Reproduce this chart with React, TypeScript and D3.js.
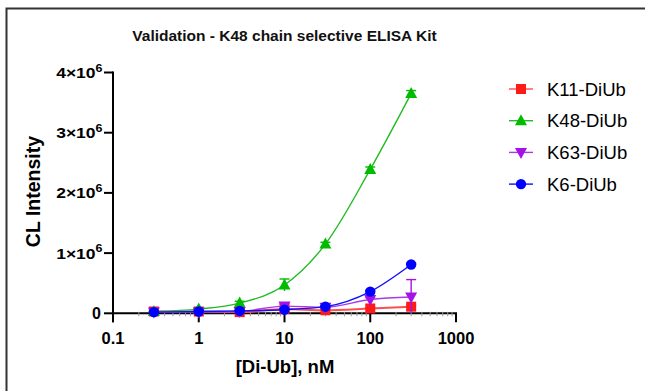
import * as d3 from 'd3';
import React from 'react';

// concentrations, nM
const conc = [0.3, 1, 3, 10, 30, 100, 300];

// mean CL intensity per series
const k11 = [30000, 30000, 20000, 70000, 50000, 80000, 110000];
const k48 = [30000, 70000, 170000, 470000, 1150000, 2390000, 3650000];
const k63 = [20000, 20000, 30000, 120000, 100000, 230000, 270000];
const k6 = [20000, 30000, 40000, 60000, 110000, 360000, 810000];

// error (SD), only the visible ones matter
const k11Err = [10000, 10000, 10000, 20000, 10000, 10000, 20000];
const k48Err = [10000, 20000, 30000, 100000, 30000, 40000, 50000];
const k63Err = [10000, 10000, 10000, 40000, 20000, 30000, 290000];
const k6Err = [10000, 10000, 10000, 10000, 10000, 20000, 20000];

const xTicks = [0.1, 1, 10, 100, 1000];
const yTicks = [0, 1, 2, 3, 4];

const series = [
    { name: 'K11-DiUb', values: k11, err: k11Err, color: '#ff1a1a', line: '#ff4d4d', shape: 'square' },
    { name: 'K48-DiUb', values: k48, err: k48Err, color: '#00bb00', line: '#22bb22', shape: 'up' },
    { name: 'K63-DiUb', values: k63, err: k63Err, color: '#a412e8', line: '#a83ae8', shape: 'down' },
    { name: 'K6-DiUb', values: k6, err: k6Err, color: '#0000ff', line: '#1010ff', shape: 'circle' },
];

const font = 'Liberation Sans, Arial, sans-serif';

const Marker = ({ shape, x, y, color }) => {
    if (shape === 'square') return <rect x={x - 5} y={y - 5} width={10} height={10} fill={color} />;
    if (shape === 'circle') return <circle cx={x} cy={y} r={5.2} fill={color} />;
    if (shape === 'up') return <path d={`M${x},${y - 6.5}L${x + 6},${y + 4.5}L${x - 6},${y + 4.5}Z`} fill={color} />;
    return <path d={`M${x},${y + 6.5}L${x + 6},${y - 4.5}L${x - 6},${y - 4.5}Z`} fill={color} />;
};

const App = () => {
    const width = 645;
    const height = 391;

    const x = d3.scaleLog().domain([0.1, 1000]).range([113, 456]);
    const y = d3.scaleLinear().domain([0, 4e6]).range([313.3, 72.5]);

    const line = d3.line()
        .x(d => x(d[0]))
        .y(d => y(d[1]))
        .curve(d3.curveMonotoneX);

    const minor = [];
    for (let p = -1; p < 3; p++) {
        for (let m = 2; m < 10; m++) minor.push(m * Math.pow(10, p));
    }

    return (
        <svg width={width} height={height} style={{ position: 'absolute', left: 0, top: 0, background: '#fff' }}
            fontFamily={font}>
            {/* outer frame */}
            <rect x={6.5} y={8.5} width={660} height={400} fill="none" stroke="#333" strokeWidth={2} />

            <text x={284.5} y={41} textAnchor="middle" fontSize={15.5} fontWeight="bold" fill="#111">
                Validation - K48 chain selective ELISA Kit
            </text>

            {/* y axis */}
            <line x1={x(0.1)} x2={x(0.1)} y1={y(4e6) - 1} y2={y(0) + 9} stroke="#000" strokeWidth={2} />
            {yTicks.map(t => (
                <g key={t}>
                    <line x1={x(0.1) - 9} x2={x(0.1)} y1={y(t * 1e6)} y2={y(t * 1e6)} stroke="#000" strokeWidth={2} />
                    {t === 0 ? (
                        <text x={101} y={y(0) + 6} textAnchor="end" fontSize={16} fontWeight="bold">0</text>
                    ) : (
                        <text transform={`translate(102.5,${y(t * 1e6) + 5.5}) scale(1.25,1)`} textAnchor="end"
                            fontSize={14} fontWeight="bold">
                            {t}×10<tspan fontSize={10} dy={-6.5}>6</tspan>
                        </text>
                    )}
                </g>
            ))}
            <text transform={`translate(40,${191.5}) rotate(-90)`} textAnchor="middle" fontSize={19.5} fontWeight="bold">
                CL Intensity
            </text>

            {/* x axis */}
            <line x1={x(0.1) - 1} x2={x(1000) + 1} y1={y(0)} y2={y(0)} stroke="#000" strokeWidth={2} />
            {minor.map(m => (
                <line key={m} x1={x(m)} x2={x(m)} y1={y(0) - 1.5} y2={y(0) + 3} stroke="#999" strokeWidth={1} />
            ))}
            {xTicks.map(t => (
                <g key={t}>
                    <line x1={x(t)} x2={x(t)} y1={y(0)} y2={y(0) + 9} stroke="#000" strokeWidth={2} />
                    <text x={x(t)} y={343.5} textAnchor="middle" fontSize={16.5} fontWeight="bold">{t}</text>
                </g>
            ))}
            <text x={285} y={373} textAnchor="middle" fontSize={18.5} fontWeight="bold">[Di-Ub], nM</text>

            {/* series */}
            {series.map(s => (
                <g key={s.name}>
                    <path d={line(conc.map((c, i) => [c, s.values[i]]))} fill="none" stroke={s.line}
                        strokeWidth={s.shape === 'square' ? 2 : 1.4} />
                    {conc.map((c, i) => {
                        const cx = x(c);
                        const top = y(s.values[i] + s.err[i]);
                        const bot = y(Math.max(0, s.values[i] - s.err[i]));
                        return (
                            <g key={c}>
                                <line x1={cx} x2={cx} y1={top} y2={bot} stroke={s.color} strokeWidth={1.4} />
                                <line x1={cx - 5} x2={cx + 5} y1={top} y2={top} stroke={s.color} strokeWidth={1.4} />
                                <Marker shape={s.shape} x={cx} y={y(s.values[i])} color={s.color} />
                            </g>
                        );
                    })}
                </g>
            ))}

            {/* legend */}
            {series.map((s, i) => {
                const ly = 89 + i * 31.7;
                return (
                    <g key={s.name}>
                        <line x1={509} x2={533} y1={ly} y2={ly} stroke={s.line} strokeWidth={1.4} />
                        <Marker shape={s.shape} x={521} y={ly} color={s.color} />
                        <text x={547} y={ly + 6.5} fontSize={18.5}>{s.name}</text>
                    </g>
                );
            })}
        </svg>
    );
};

export default App;
